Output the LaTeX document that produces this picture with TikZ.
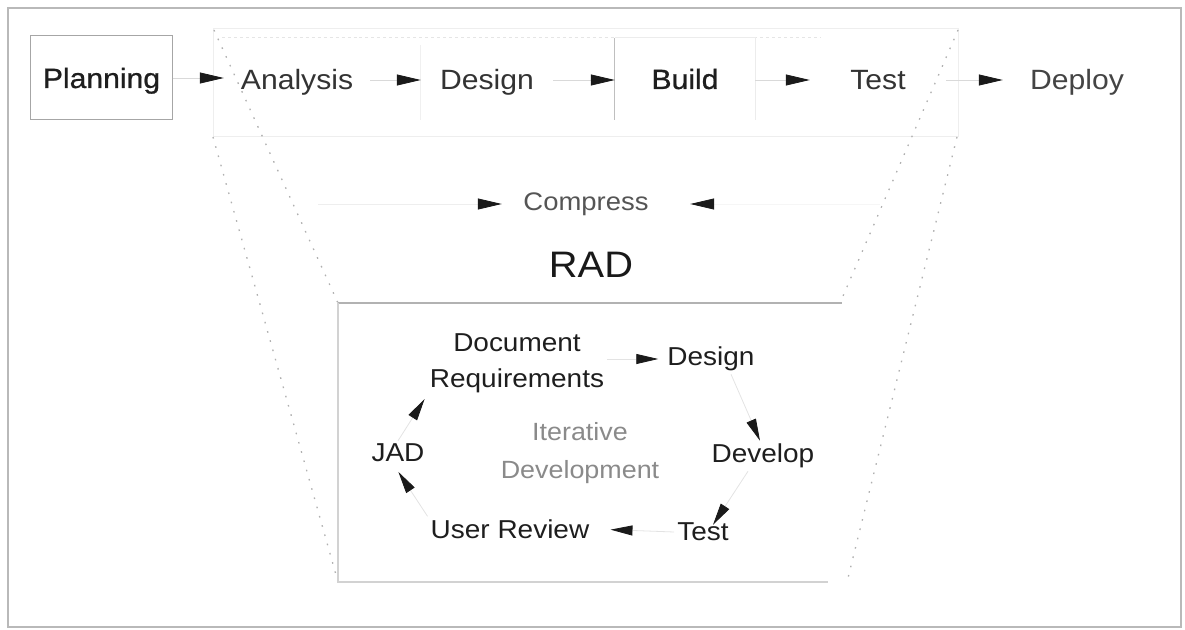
\documentclass[tikz,border=0pt]{standalone}
\usepackage{fontspec}
\setmainfont{Liberation Sans}[FakeStretch=1.08]
\newfontfamily\heavyfont{Liberation Sans}[FakeStretch=1.08, FakeBold=0.8]
\usetikzlibrary{arrows.meta}
\definecolor{txtdark}{HTML}{1E1E1E}
\definecolor{txtmid}{HTML}{333333}
\definecolor{txtgray}{HTML}{555555}
\definecolor{txtlight}{HTML}{8A8A8A}
\definecolor{headcol}{HTML}{1A1A1A}
\tikzset{
  toptext/.style={inner sep=0pt, minimum height=30bp, text height=20bp, text depth=0pt, font=\fontsize{28}{30}\selectfont, text=txtmid},
  ringtext/.style={inner sep=3bp, font=\fontsize{26}{36}\selectfont, text=txtdark, align=center},
  conn/.style={draw=gray!30, line width=0.8bp, -{Triangle[length=24bp,width=11bp,color=headcol]}},
  ringconn/.style={draw=gray!22, line width=0.8bp, -{Triangle[length=22bp,width=10bp,color=headcol]}},
  funnel/.style={draw=gray!62, line width=1.3bp, dash pattern=on 1.6bp off 8bp},
  faint/.style={draw=gray!13, line width=1bp},
}
\begin{document}
\begin{tikzpicture}[x=1bp,y=-1bp]
\useasboundingbox (0,0) rectangle (1185,630);
% outer frame
\draw[gray!55, line width=1.6bp] (8,8) rectangle (1181,627);

% faint top group (scan remnant)
\draw[faint] (213,29) rectangle (958,137);
\draw[gray!20, line width=1bp, dashed] (222,38) -- (820,38);
\draw[gray!12, line width=1bp] (420,45) -- (420,120);

% funnel dotted edges
\coordinate (fTL) at (214,30);
\coordinate (fTR) at (958,30);
\coordinate (fML) at (213,137);
\coordinate (fMR) at (957,137);
\coordinate (bTL) at (338,303);
\coordinate (bTR) at (842,303);
\coordinate (bBL) at (338,582);
\coordinate (bBR) at (828,582);
\draw[funnel] (fTL) -- (bTL);
\draw[funnel] (fML) -- (bBL);
\draw[funnel] (fTR) -- (840,303);
\draw[funnel] (fMR) -- (847,582);

% lower box
\draw[gray!60, line width=1.6bp] (bTL) -- (bTR);
\draw[gray!35, line width=1.2bp] (bTL) -- (bBL) -- (bBR);

% top row
\node[toptext, draw=gray!70, line width=1bp, minimum width=141bp, minimum height=84bp, text=txtdark, font=\fontsize{28}{30}\heavyfont] (plan) at (101.5,78) {Planning};
\node[toptext, minimum width=146bp] (ana) at (297,80) {Analysis};
\node[toptext, minimum width=132bp] (des) at (487,80) {Design};
\node[toptext, minimum width=140bp, minimum height=82bp, text=txtdark, font=\fontsize{28}{30}\heavyfont] (build) at (685,79) {Build};
\draw[gray!50, line width=1.2bp] (build.north west) -- (build.south west);
\draw[gray!15, line width=1bp] (build.north west) -- (build.north east) -- (build.south east);
\node[toptext, minimum width=136bp] (test) at (878,80) {Test};
\node[toptext, minimum width=148bp, text=txtgray!80!black] (deploy) at (1077,80) {Deploy};

\draw[conn] (plan.east) -- (plan.east -| ana.west);
\draw[conn] (ana.east) -- (des.west);
\draw[conn] (des.east) -- (des.east -| build.west);
\draw[conn] (build.east |- test.west) -- (test.west);
\draw[conn] (test.east) -- (deploy.west);

% compress
\node[inner sep=0pt, minimum width=168bp, font=\fontsize{25.5}{28}\selectfont, text=txtgray] (comp) at (586,204) {Compress};
\coordinate (cl) at (318,204);
\coordinate (cr) at (880,204);
\draw[conn, draw=gray!13] (cl) -- (comp.west);
\draw[conn, draw=gray!7, shorten >=20bp] (cr) -- (comp.east);

% RAD
\node[inner sep=0pt, font=\fontsize{37}{40}\selectfont, text=black!90] (rad) at (591,265) {RAD};

% iterative ring
\node[ringtext] (docreq) at (517,363) {Document\\Requirements};
\node[ringtext] (rdes) at (711,359) {Design};
\node[ringtext] (rdev) at (763,456) {Develop};
\node[ringtext] (rtest) at (703,532) {Test};
\node[ringtext] (urev) at (510,529) {User Review};
\node[ringtext] (jad) at (398,453) {JAD};
\node[ringtext, text=txtlight, font=\fontsize{25}{38}\selectfont] (iter) at (580,453) {Iterative\\Development};

\draw[ringconn] (docreq.east |- rdes.west) -- ([xshift=-6bp]rdes.west);
\draw[ringconn] ([xshift=20bp]rdes.south) -- ([xshift=-3bp]rdev.north);
\draw[ringconn] ([xshift=-15bp]rdev.south) -- ([xshift=10bp,yshift=-5bp]rtest.north);
\draw[ringconn, shorten >=18bp] (rtest.west) -- (urev.east);
\draw[ringconn, shorten >=8bp] (urev.north west) -- ([xshift=-4bp]jad.south);
\draw[ringconn, shorten >=4bp] (jad.north) -- (docreq.south west);
\end{tikzpicture}
\end{document}
